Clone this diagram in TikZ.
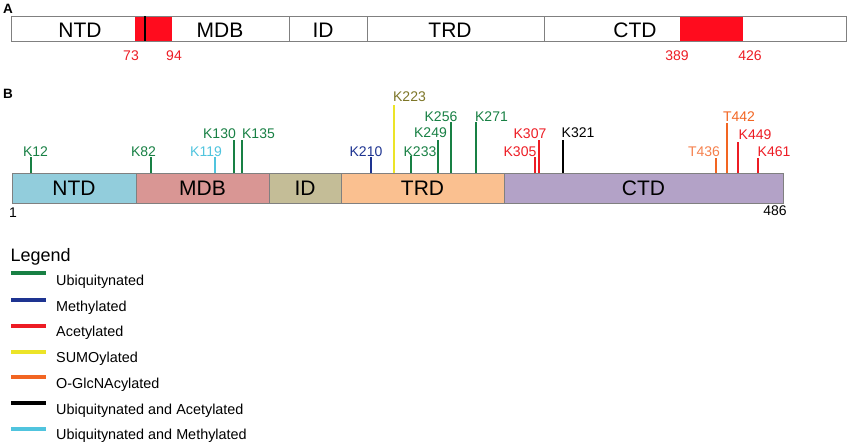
\documentclass[tikz,border=0pt]{standalone}
\usepackage{fontspec}
\setmainfont{Liberation Sans}
\definecolor{cntd}{RGB}{146,205,220}
\definecolor{cmdb}{RGB}{217,150,148}
\definecolor{cid}{RGB}{196,189,151}
\definecolor{ctrd}{RGB}{250,192,144}
\definecolor{cctd}{RGB}{179,162,199}
\definecolor{ub}{RGB}{24,128,68}
\definecolor{me}{RGB}{30,52,145}
\definecolor{ac}{RGB}{237,28,36}
\definecolor{su}{RGB}{236,228,40}
\definecolor{sutxt}{RGB}{125,118,40}
\definecolor{og}{RGB}{242,101,34}
\definecolor{ogtxt}{RGB}{245,128,76}
\definecolor{um}{RGB}{80,196,222}
\definecolor{redblk}{RGB}{255,12,30}
\definecolor{edge}{RGB}{128,128,128}
\tikzset{
  dom/.style={draw=edge, line width=0.8pt, inner sep=0pt, outer sep=0pt, minimum height=30pt, font=\fontsize{21}{21}\selectfont},
  dlab/.style={inner sep=0pt, anchor=base, font=\fontsize{21}{21}\selectfont},
  site/.style={inner sep=0pt, anchor=base, font=\fontsize{14}{14}\selectfont},
  tick/.style={line width=1.5pt},
  num/.style={inner sep=0pt, anchor=base, font=\fontsize{14}{14}\selectfont},
  panel/.style={inner sep=0pt, anchor=base west, font=\fontsize{13.5}{13.5}\selectfont\bfseries},
  legline/.style={line width=4pt},
  legtxt/.style={inner sep=0pt, anchor=base west, font=\fontsize{14.4}{14.4}\selectfont}
}
\begin{document}
\begin{tikzpicture}[x=1pt,y=-1pt]
\useasboundingbox (0,0) rectangle (850,447);
% Panel A
\node[panel] (pa) at (3,13.5) {A};
\draw[edge, line width=0.8pt, fill=white] (11,16) rectangle (846,41);
\fill[redblk] (135,16) rectangle (172,41);
\fill[redblk] (680,16) rectangle (743,41);
\draw[edge, line width=0.8pt] (11,16) rectangle (846,41);
\draw[black, line width=1.2pt] (145,16) -- (145,41);
\draw[edge, line width=0.8pt] (289,16) -- (289,41) (367,16) -- (367,41) (544,16) -- (544,41);
\node[dlab] (antd) at (80,37) {NTD};
\node[dlab] (amdb) at (220,37) {MDB};
\node[dlab] (aid) at (323,37) {ID};
\node[dlab] (atrd) at (450,37) {TRD};
\node[dlab] (actd) at (635,37) {CTD};
\node[num, ac] (n73) at (131,60) {73};
\node[num, ac] (n94) at (174,60) {94};
\node[num, ac] (n389) at (677,60) {389};
\node[num, ac] (n426) at (750,60) {426};
% Panel B
\node[panel] (pb) at (3,98.5) {B};
\node[dom, fill=cntd, minimum width=124pt] (bntd) at (74,188) {NTD};
\node[dom, fill=cmdb, minimum width=133pt] (bmdb) at (202.5,188) {MDB};
\node[dom, fill=cid, minimum width=72pt] (bid) at (305,188) {ID};
\node[dom, fill=ctrd, minimum width=163pt] (btrd) at (422.5,188) {TRD};
\node[dom, fill=cctd, minimum width=279pt] (bctd) at (643.5,188) {CTD};
\node[num] (one) at (13,217) {1};
\node[num] (end) at (775,215) {486};
% ticks
\draw[tick, ub] (31,173) -- (31,157);
\draw[tick, ub] (151,173) -- (151,157);
\draw[tick, um] (215,173) -- (215,157);
\draw[tick, ub] (234,173) -- (234,140);
\draw[tick, ub] (242,173) -- (242,140);
\draw[tick, me] (371,173) -- (371,157);
\draw[tick, su] (394,173) -- (394,105);
\draw[tick, ub] (411,173) -- (411,156);
\draw[tick, ub] (438,173) -- (438,140);
\draw[tick, ub] (451,173) -- (451,122);
\draw[tick, ub] (476,173) -- (476,122);
\draw[tick, ac] (535,173) -- (535,157);
\draw[tick, ac] (539,173) -- (539,140);
\draw[tick, black] (563,173) -- (563,140);
\draw[tick, og] (716,173) -- (716,158);
\draw[tick, og] (727,173) -- (727,123);
\draw[tick, ac] (738,173) -- (738,142);
\draw[tick, ac] (758,173) -- (758,158);
% site labels
\node[site, ub] (k12) at (35.5,156) {K12};
\node[site, ub] (k82) at (143.5,156) {K82};
\node[site, um] (k119) at (206,156) {K119};
\node[site, ub] (k130) at (219.5,138) {K130};
\node[site, ub] (k135) at (258.5,138) {K135};
\node[site, me] (k210) at (366,156) {K210};
\node[site, sutxt] (k223) at (409.5,101) {K223};
\node[site, ub] (k233) at (420,156) {K233};
\node[site, ub] (k249) at (430.5,137) {K249};
\node[site, ub] (k256) at (441,121) {K256};
\node[site, ub] (k271) at (491.5,121) {K271};
\node[site, ac] (k305) at (520,156) {K305};
\node[site, ac] (k307) at (530,138) {K307};
\node[site, black] (k321) at (578,137) {K321};
\node[site, ogtxt] (t436) at (704,156) {T436};
\node[site, og] (t442) at (739,121) {T442};
\node[site, ac] (k449) at (755,139) {K449};
\node[site, ac] (k461) at (774,156) {K461};
% Legend
\node[inner sep=0pt, anchor=base west, font=\fontsize{18}{18}\selectfont] (leg) at (10.5,261.5) {Legend};
\draw[legline, ub] (11,273) -- (46,273);
\node[legtxt] (l1) at (56,285) {Ubiquitynated};
\draw[legline, me] (11,300) -- (46,300);
\node[legtxt] (l2) at (56,311) {Methylated};
\draw[legline, ac] (11,326) -- (46,326);
\node[legtxt] (l3) at (56,336) {Acetylated};
\draw[legline, su] (11,352) -- (46,352);
\node[legtxt] (l4) at (56,362) {SUMOylated};
\draw[legline, og] (11,377) -- (46,377);
\node[legtxt] (l5) at (56,388) {O-GlcNAcylated};
\draw[legline, black] (11,403) -- (46,403);
\node[legtxt] (l6) at (56,414) {Ubiquitynated and Acetylated};
\draw[legline, um] (11,429) -- (46,429);
\node[legtxt] (l7) at (56,439) {Ubiquitynated and Methylated};
\end{tikzpicture}
\end{document}
